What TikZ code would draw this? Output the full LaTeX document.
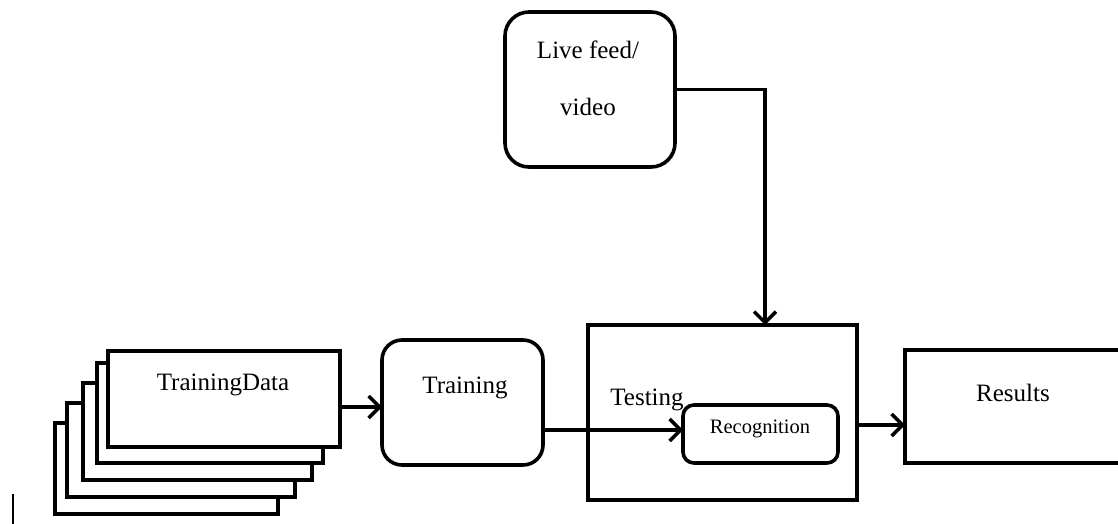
\documentclass[tikz,border=0pt]{standalone}
\usepackage{fontspec}
\setmainfont{Liberation Serif}
\usetikzlibrary{arrows.meta,calc}
\begin{document}
\begin{tikzpicture}[x=1pt,y=-1pt,
  every node/.style={inner sep=0pt,outer sep=0pt},
  card/.style={draw,line width=3.6pt,fill=white,rectangle},
  roundbox/.style={draw,line width=3.6pt,fill=white,rectangle,rounded corners=20pt},
  plainbox/.style={draw,line width=3.6pt,fill=white,rectangle},
  lbl/.style={font=\fontsize{25}{30}\selectfont},
  smalllbl/.style={font=\fontsize{20.5}{24}\selectfont},
  flow/.style={line width=3.6pt,-{Straight Barb[length=11pt,width=22pt,line width=3.4pt]}}
]
\useasboundingbox (0,0) rectangle (1118,524);
\begin{scope}
\clip (0,0) rectangle (1118,524);

% stacked training data sheets, back to front
\node[card,minimum width=223pt,minimum height=91pt] (card5) at (166.5,468.5) {};
\node[card,minimum width=228pt,minimum height=94pt] (card4) at (181,450) {};
\node[card,minimum width=229pt,minimum height=97pt] (card3) at (197.5,431.5) {};
\node[card,minimum width=226pt,minimum height=100pt] (card2) at (210,413) {};
\node[card,minimum width=232pt,minimum height=96pt] (card1) at (224,399) {};
\node[lbl] (tdata) at (223,385) {TrainingData};

% stray cursor mark
\coordinate (m1) at (13,494);
\coordinate (m2) at (13,524);
\draw[line width=2pt] (m1) -- (m2);

% training stage
\node[roundbox,minimum width=161pt,minimum height=125pt] (training) at (462.5,402.5) {};
\node[lbl] (ttext) at (465,388) {Training};

% testing stage with recognition inside
\node[plainbox,minimum width=269pt,minimum height=175pt] (testing) at (722.5,412.5) {};
\node[lbl] (testtext) at (647,400) {Testing};
\node[roundbox,rounded corners=11pt,minimum width=155pt,minimum height=58pt] (recog) at (760.5,434) {};
\node[smalllbl] (rtext) at (760,429) {Recognition};

% results
\node[plainbox,minimum width=225pt,minimum height=113pt] (results) at (1017.5,406.5) {};
\node[lbl] (restext) at (1013,393) {Results};

% live feed source
\node[roundbox,rounded corners=24pt,minimum width=170pt,minimum height=155pt] (live) at (590,89.5) {};
\node[lbl] (ltext1) at (588,50) {Live feed/};
\node[lbl] (ltext2) at (588,107) {video};

% connectors
\draw[flow] ($(card1.east)+(0,8)$) -- ($(training.west)+(0,4.5)$);
\draw[flow] (training.east |- 0,430) -- (recog.west |- 0,430);
\draw[flow] (testing.east |- 0,425) -- (results.west |- 0,425);
\draw[flow] (live.east) -| ($(testing.north)+(42.5,0)$);
\end{scope}
\end{tikzpicture}
\end{document}
